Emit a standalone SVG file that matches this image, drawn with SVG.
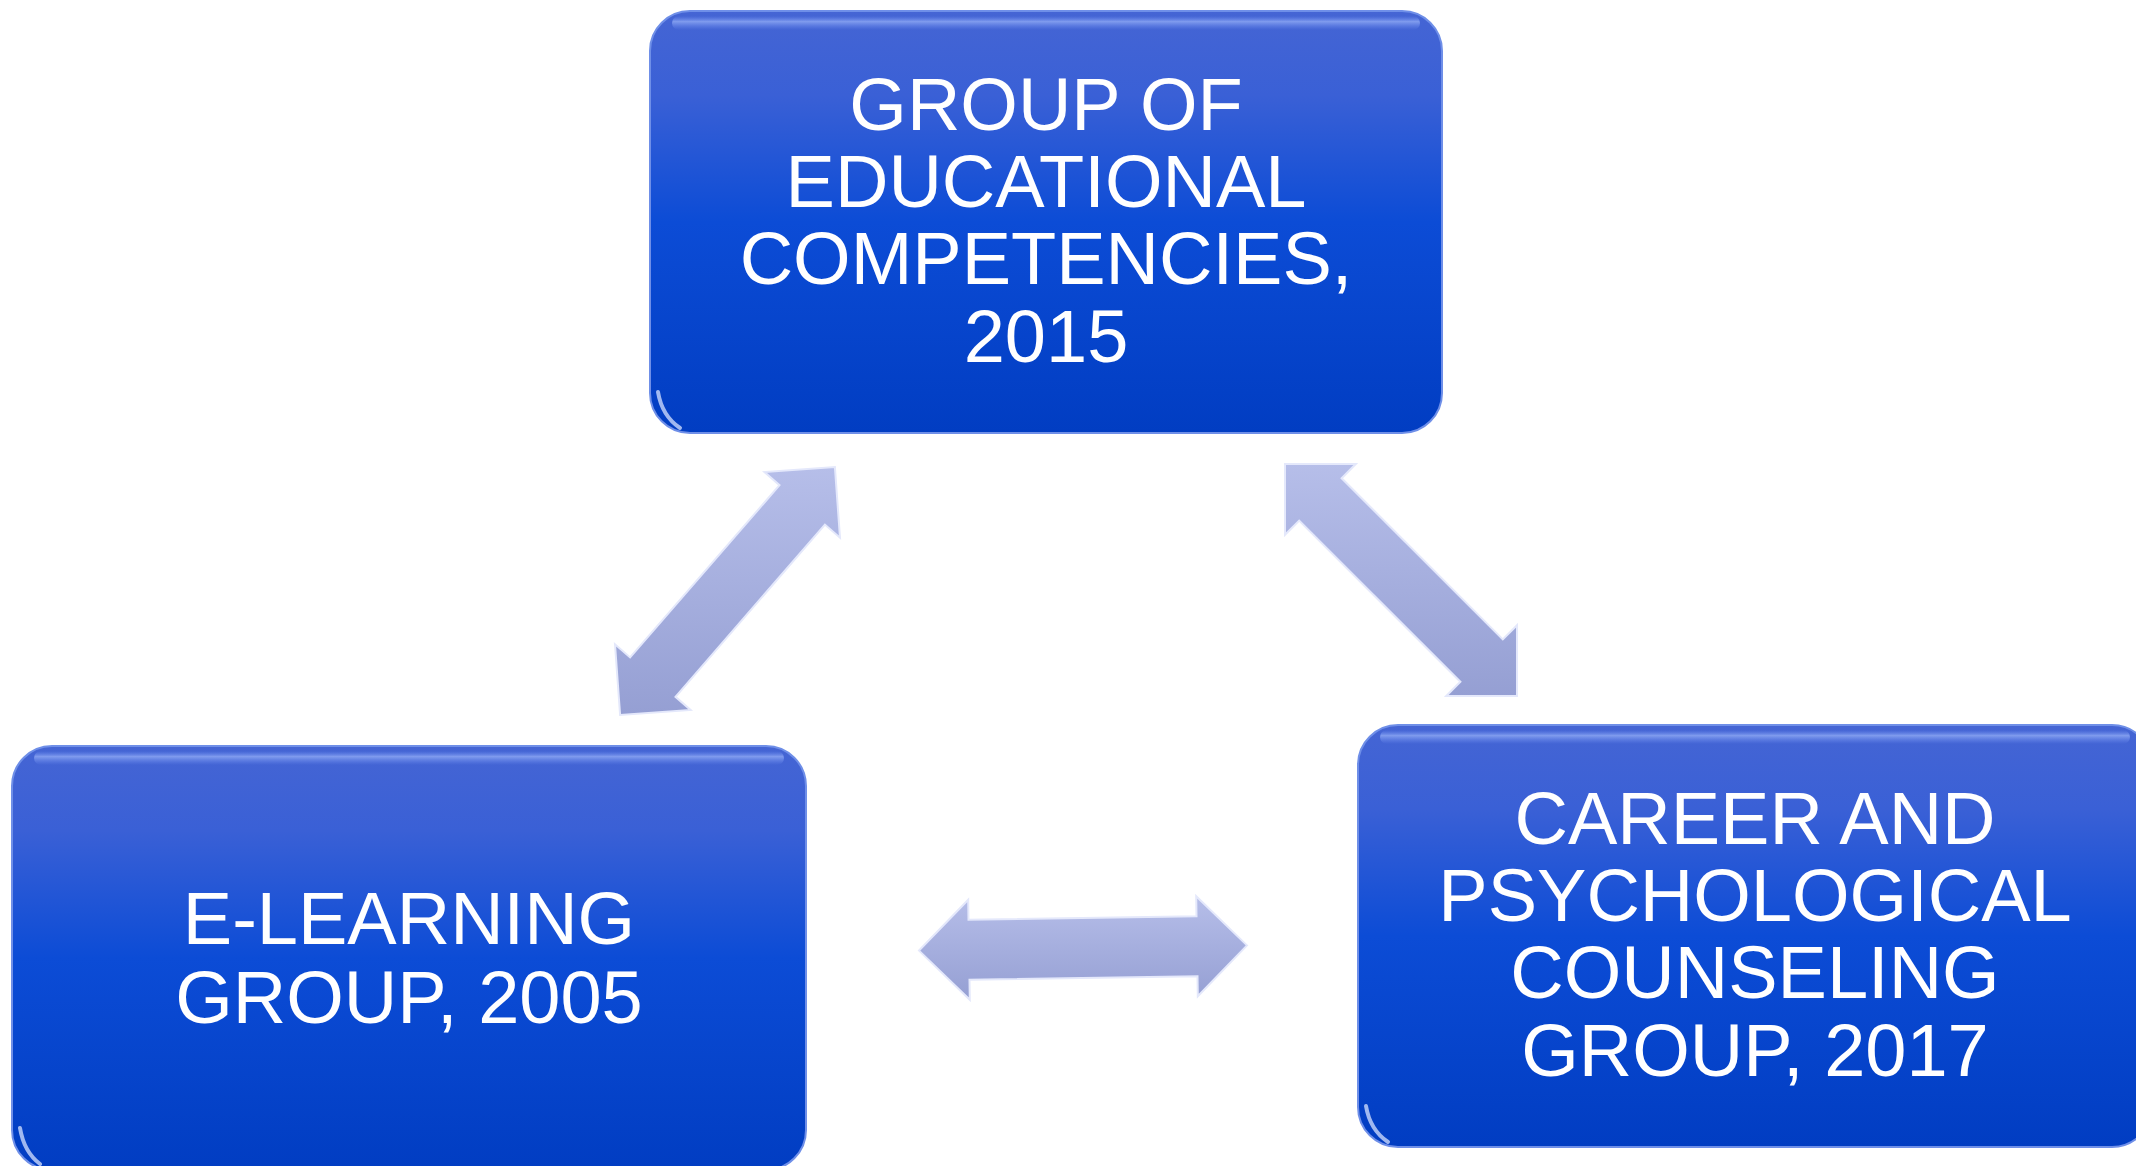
<svg xmlns="http://www.w3.org/2000/svg" width="2136" height="1166" viewBox="0 0 2136 1166">
<defs>
<linearGradient id="boxFill" x1="0" y1="0" x2="0" y2="1">
<stop offset="0" stop-color="#4565d4"/>
<stop offset="0.2" stop-color="#3a60d6"/>
<stop offset="0.5" stop-color="#0c4cd6"/>
<stop offset="1" stop-color="#013dc2"/>
</linearGradient>
<linearGradient id="topGlow" x1="0" y1="0" x2="0" y2="1">
<stop offset="0" stop-color="#6e8ef0" stop-opacity="0"/>
<stop offset="0.4" stop-color="#8fa9f4" stop-opacity="0.8"/>
<stop offset="1" stop-color="#6e8ef0" stop-opacity="0"/>
</linearGradient>
<linearGradient id="arrowFill" x1="0" y1="0" x2="0" y2="1">
<stop offset="0" stop-color="#b6bee9"/>
<stop offset="1" stop-color="#959fd3"/>
</linearGradient>
<style>
.box{fill:url(#boxFill);stroke:#6f8fe8;stroke-width:2}
.glow{fill:url(#topGlow)}
.edge{fill:none;stroke:#d6e2ff;stroke-width:4;stroke-linecap:round;opacity:0.75}
.lbl{font-family:"Liberation Sans",Arial,sans-serif;font-size:74px;fill:#ffffff;text-anchor:middle}
.arrow{fill:url(#arrowFill);stroke:#e4e8fb;stroke-width:2;stroke-linejoin:miter}
</style>
</defs>

<g id="connectors">
<polygon class="arrow" points="834.9,467.1 840.0,537.7 824.9,524.6 675.5,696.8 690.6,709.9 620.1,714.9 615.0,644.3 630.1,657.4 779.5,485.2 764.4,472.1"/>
<polygon class="arrow" points="1517.0,696.0 1446.2,696.0 1460.4,681.8 1299.2,520.6 1285.0,534.8 1285.0,464.0 1355.8,464.0 1341.6,478.2 1502.8,639.4 1517.0,625.2"/>
<polygon class="arrow" points="1247.0,945.4 1197.8,996.2 1197.5,976.2 969.5,979.8 969.8,999.8 919.0,950.6 968.2,899.8 968.5,919.8 1196.5,916.2 1196.2,896.2"/>
</g>

<g id="node-top">
<rect class="box" x="650" y="11" width="792" height="422" rx="40" ry="40"/>
<rect class="glow" x="672" y="16" width="748" height="14" rx="7"/>
<path class="edge" d="M658,392 Q662,416 680,428"/>
<text class="lbl" x="1046" y="130">GROUP OF</text>
<text class="lbl" x="1046" y="207">EDUCATIONAL</text>
<text class="lbl" x="1046" y="284">COMPETENCIES,</text>
<text class="lbl" x="1046" y="362">2015</text>
</g>

<g id="node-left">
<rect class="box" x="12" y="746" width="794" height="424" rx="40" ry="40"/>
<rect class="glow" x="34" y="751" width="750" height="14" rx="7"/>
<path class="edge" d="M20,1128 Q24,1152 40,1164"/>
<text class="lbl" x="409" y="944">E-LEARNING</text>
<text class="lbl" x="409" y="1023">GROUP, 2005</text>
</g>

<g id="node-right">
<rect class="box" x="1358" y="725" width="794" height="422" rx="40" ry="40"/>
<rect class="glow" x="1380" y="730" width="750" height="14" rx="7"/>
<path class="edge" d="M1366,1106 Q1370,1130 1388,1142"/>
<text class="lbl" x="1755" y="844">CAREER AND</text>
<text class="lbl" x="1755" y="921">PSYCHOLOGICAL</text>
<text class="lbl" x="1755" y="998">COUNSELING</text>
<text class="lbl" x="1755" y="1076">GROUP, 2017</text>
</g>
</svg>
